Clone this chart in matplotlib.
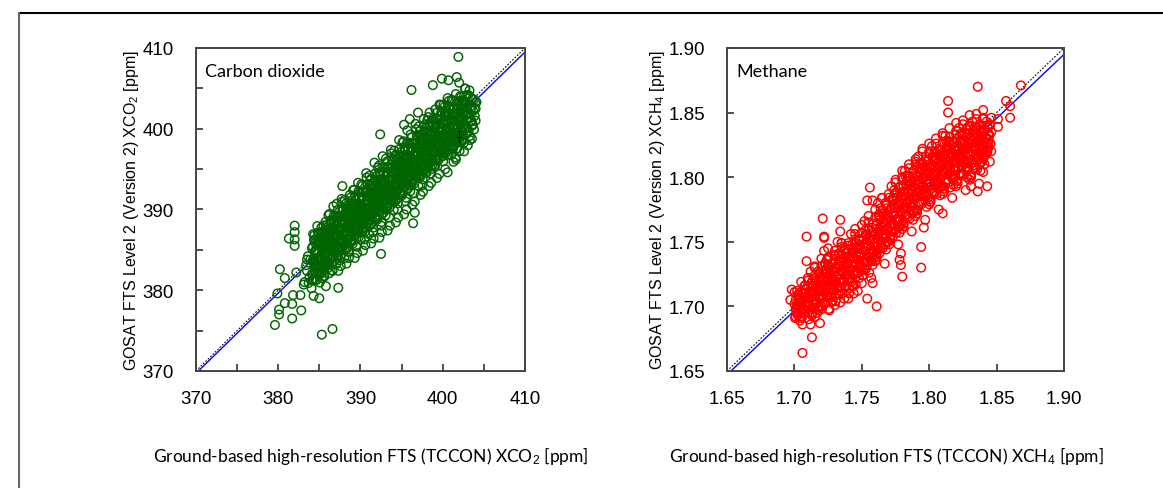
import numpy as np
import matplotlib
matplotlib.use('Agg')
import matplotlib.pyplot as plt
from matplotlib.lines import Line2D

plt.rcParams['font.family'] = 'sans-serif'
plt.rcParams['font.sans-serif'] = ['Liberation Sans', 'DejaVu Sans']
plt.rcParams['mathtext.fontset'] = 'custom'
plt.rcParams['mathtext.rm'] = 'Liberation Sans'
plt.rcParams['mathtext.it'] = 'Liberation Sans'

# ---- CO2 : TCCON (x) vs GOSAT (y) ----
co2_core_x = [
    383.2, 383.5, 383.8, 383.4, 383.9, 383.1, 383.7, 383.6,
    384.1, 384.3, 384.5, 384.7, 384.9, 384.2, 384.6, 384.8, 384.4, 384.9, 384.1, 384.6,
    385.0, 385.2, 385.4, 385.6, 385.8, 385.1, 385.3, 385.5, 385.7, 385.9, 385.2, 385.6, 385.4, 385.8, 385.0,
    386.0, 386.2, 386.4, 386.6, 386.8, 386.1, 386.3, 386.5, 386.7, 386.9, 386.2, 386.6, 386.4, 386.8, 386.0, 386.5,
    387.0, 387.2, 387.4, 387.6, 387.8, 387.1, 387.3, 387.5, 387.7, 387.9, 387.2, 387.6, 387.4, 387.8, 387.0, 387.5,
    388.0, 388.2, 388.4, 388.6, 388.8, 388.1, 388.3, 388.5, 388.7, 388.9, 388.2, 388.6, 388.4, 388.8, 388.0, 388.5,
    389.0, 389.2, 389.4, 389.6, 389.8, 389.1, 389.3, 389.5, 389.7, 389.9, 389.2, 389.6, 389.4, 389.8, 389.0, 389.5,
    390.0, 390.2, 390.4, 390.6, 390.8, 390.1, 390.3, 390.5, 390.7, 390.9, 390.2, 390.6, 390.4, 390.8, 390.0, 390.5,
    391.0, 391.2, 391.4, 391.6, 391.8, 391.1, 391.3, 391.5, 391.7, 391.9, 391.2, 391.6, 391.4, 391.8, 391.0, 391.5,
    392.0, 392.2, 392.4, 392.6, 392.8, 392.1, 392.3, 392.5, 392.7, 392.9, 392.2, 392.6, 392.4, 392.8, 392.0, 392.5,
    393.0, 393.2, 393.4, 393.6, 393.8, 393.1, 393.3, 393.5, 393.7, 393.9, 393.2, 393.6, 393.4, 393.8, 393.0, 393.5,
    394.0, 394.2, 394.4, 394.6, 394.8, 394.1, 394.3, 394.5, 394.7, 394.9, 394.2, 394.6, 394.4, 394.8, 394.0, 394.5,
    395.0, 395.2, 395.4, 395.6, 395.8, 395.1, 395.3, 395.5, 395.7, 395.9, 395.2, 395.6, 395.4, 395.8, 395.0, 395.5, 395.3,
    396.0, 396.2, 396.4, 396.6, 396.8, 396.1, 396.3, 396.5, 396.7, 396.9, 396.2, 396.6, 396.4, 396.8, 396.0, 396.5,
    397.0, 397.2, 397.4, 397.6, 397.8, 397.1, 397.3, 397.5, 397.7, 397.9, 397.2, 397.6, 397.4, 397.8, 397.0, 397.5,
    398.0, 398.2, 398.4, 398.6, 398.8, 398.1, 398.3, 398.5, 398.7, 398.9, 398.2, 398.6, 398.4,
    399.0, 399.2, 399.4, 399.6, 399.8, 399.1, 399.3, 399.5, 399.7, 399.9, 399.2, 399.6, 399.4,
    400.0, 400.2, 400.4, 400.6, 400.8, 400.1, 400.3, 400.5, 400.7, 400.9, 400.2, 400.6, 400.4,
    401.0, 401.2, 401.4, 401.6, 401.8, 401.1, 401.3, 401.5, 401.7, 401.9, 401.2, 401.6, 401.4,
    402.0, 402.2, 402.4, 402.6, 402.8, 402.1, 402.3, 402.5, 402.7, 402.9, 402.2,
    403.0, 403.2, 403.4, 403.6, 403.8, 403.1, 403.5, 403.9, 403.3,
    404.0, 404.0, 404.1,
]
co2_core_y = [
    381.0, 382.4, 381.6, 383.1, 383.8, 380.7, 380.9, 384.2,
    382.0, 383.5, 384.9, 381.3, 386.0, 385.4, 382.7, 384.0, 386.8, 383.1, 381.2, 385.7,
    382.2, 384.1, 386.3, 383.0, 385.2, 387.1, 381.5, 388.0, 384.5, 386.8, 382.9, 381.7, 385.0, 383.6, 383.9,
    383.4, 385.6, 387.5, 382.4, 384.7, 389.3, 386.4, 388.6, 390.4, 386.0, 382.1, 385.3, 384.0, 388.0, 387.0, 383.2,
    384.6, 386.9, 389.0, 383.0, 385.8, 390.7, 382.4, 387.6, 391.3, 388.4, 384.0, 386.3, 385.1, 389.8, 388.1, 383.7,
    385.1, 387.4, 389.6, 384.0, 386.6, 391.2, 383.3, 388.3, 391.8, 389.2, 385.9, 387.9, 386.3, 390.4, 388.7, 384.8,
    386.1, 388.5, 390.7, 384.6, 387.3, 392.4, 384.0, 389.4, 393.3, 390.1, 386.8, 388.6, 387.6, 391.4, 389.8, 385.4,
    387.1, 389.4, 391.5, 385.6, 388.2, 393.1, 384.9, 390.2, 394.5, 391.0, 387.6, 389.6, 388.5, 392.5, 390.6, 386.3,
    388.0, 390.4, 392.6, 386.4, 389.1, 394.2, 385.8, 391.1, 395.8, 392.0, 388.7, 390.7, 389.5, 393.6, 391.5, 387.2,
    389.0, 391.3, 393.5, 387.2, 390.0, 395.2, 386.5, 392.1, 396.6, 393.0, 389.7, 391.6, 390.4, 394.6, 392.4, 388.0,
    390.0, 392.3, 394.5, 388.0, 391.0, 396.3, 387.4, 393.1, 397.4, 394.0, 390.7, 392.6, 391.4, 395.6, 393.4, 389.0,
    391.0, 393.3, 395.5, 389.0, 392.0, 397.3, 388.4, 394.1, 398.6, 395.0, 391.7, 393.6, 392.4, 396.6, 394.4, 390.0,
    392.0, 394.3, 396.5, 390.0, 393.0, 398.3, 389.4, 395.1, 399.8, 396.0, 392.7, 394.6, 393.4, 397.6, 395.4, 391.0, 400.5,
    393.0, 395.3, 397.5, 391.0, 394.0, 399.3, 390.6, 396.1, 400.6, 397.0, 393.7, 395.6, 394.4, 398.6, 401.2, 392.0,
    394.0, 396.3, 398.5, 392.2, 395.0, 400.3, 391.8, 397.1, 401.2, 398.0, 394.7, 396.6, 395.4, 399.6, 402.0, 393.0,
    394.5, 397.3, 399.5, 393.3, 396.0, 401.0, 392.9, 398.1, 400.8, 397.2, 395.7, 395.0, 402.0,
    395.5, 398.3, 400.5, 394.4, 397.0, 402.4, 393.9, 399.1, 401.6, 398.2, 396.7, 403.0, 396.0,
    396.6, 399.3, 401.5, 394.6, 398.0, 403.0, 395.0, 400.1, 402.6, 399.2, 397.7, 403.8, 397.0,
    397.6, 400.3, 402.5, 396.2, 399.0, 403.6, 395.9, 401.1, 403.0, 400.2, 398.7, 404.3, 398.0,
    398.6, 401.3, 402.5, 397.2, 400.0, 404.0, 399.6, 401.1, 403.4, 401.8, 399.2,
    399.5, 401.8, 402.8, 400.4, 403.6, 404.2, 401.0, 402.4, 398.6,
    402.5, 401.0, 403.3,
]
# second pass over the dense middle of the cloud
co2_dense_x = [
    384.05, 384.3, 384.15, 384.4, 384.2, 384.45, 384.1, 384.35, 384.25,
    384.55, 384.8, 384.65, 384.9, 384.7, 384.95, 384.6, 384.85, 384.75,
    385.05, 385.3, 385.15, 385.4, 385.2, 385.45, 385.1, 385.35, 385.25,
    385.55, 385.8, 385.65, 385.9, 385.7, 385.95, 385.6, 385.85, 385.75,
    386.05, 386.3, 386.15, 386.4, 386.2, 386.45, 386.1, 386.35, 386.25,
    386.55, 386.8, 386.65, 386.9, 386.7, 386.95, 386.6, 386.85, 386.75,
    387.05, 387.3, 387.15, 387.4, 387.2, 387.45, 387.1, 387.35, 387.25,
    387.55, 387.8, 387.65, 387.9, 387.7, 387.95, 387.6, 387.85, 387.75,
    388.05, 388.3, 388.15, 388.4, 388.2, 388.45, 388.1, 388.35, 388.25,
    388.55, 388.8, 388.65, 388.9, 388.7, 388.95, 388.6, 388.85, 388.75,
    389.05, 389.3, 389.15, 389.4, 389.2, 389.45, 389.1, 389.35, 389.25,
    389.55, 389.8, 389.65, 389.9, 389.7, 389.95, 389.6, 389.85, 389.75,
    390.05, 390.3, 390.15, 390.4, 390.2, 390.45, 390.1, 390.35, 390.25,
    390.55, 390.8, 390.65, 390.9, 390.7, 390.95, 390.6, 390.85, 390.75,
    391.05, 391.3, 391.15, 391.4, 391.2, 391.45, 391.1, 391.35, 391.25,
    391.55, 391.8, 391.65, 391.9, 391.7, 391.95, 391.6, 391.85, 391.75,
    392.05, 392.3, 392.15, 392.4, 392.2, 392.45, 392.1, 392.35, 392.25,
    392.55, 392.8, 392.65, 392.9, 392.7, 392.95, 392.6, 392.85, 392.75,
    393.05, 393.3, 393.15, 393.4, 393.2, 393.45, 393.1, 393.35, 393.25,
    393.55, 393.8, 393.65, 393.9, 393.7, 393.95, 393.6, 393.85, 393.75,
    394.05, 394.3, 394.15, 394.4, 394.2, 394.45, 394.1, 394.35, 394.25,
    394.55, 394.8, 394.65, 394.9, 394.7, 394.95, 394.6, 394.85, 394.75,
    395.05, 395.3, 395.15, 395.4, 395.2, 395.45, 395.1, 395.35, 395.25,
    395.55, 395.8, 395.65, 395.9, 395.7, 395.95, 395.6, 395.85, 395.75,
    396.05, 396.3, 396.15, 396.4, 396.2, 396.45, 396.1, 396.35, 396.25,
    396.55, 396.8, 396.65, 396.9, 396.7, 396.95, 396.6, 396.85, 396.75,
    397.05, 397.3, 397.15, 397.4, 397.2, 397.45, 397.1, 397.35, 397.25,
    397.55, 397.8, 397.65, 397.9, 397.7, 397.95, 397.6, 397.85, 397.75,
    398.05, 398.3, 398.15, 398.4, 398.2, 398.45, 398.1, 398.35, 398.25,
    398.55, 398.8, 398.65, 398.9, 398.7, 398.95, 398.6, 398.85, 398.75,
    399.05, 399.3, 399.15, 399.4, 399.2, 399.45, 399.1, 399.35, 399.25,
    399.55, 399.8, 399.65, 399.9, 399.7, 399.95, 399.6, 399.85, 399.75,
    400.05, 400.3, 400.15, 400.4, 400.2, 400.45, 400.1, 400.35, 400.25,
    400.55, 400.8, 400.65, 400.9, 400.7, 400.95, 400.6, 400.85, 400.75,
    401.05, 401.3, 401.15, 401.4, 401.2, 401.45, 401.1, 401.35, 401.25,
    401.55, 401.8, 401.65, 401.9, 401.7, 401.95, 401.6, 401.85, 401.75,
    402.05, 402.3, 402.15, 402.4, 402.2, 402.45, 402.1, 402.35, 402.25,
    402.55, 402.8, 402.65, 402.9, 402.7, 402.95, 402.6, 402.85, 402.75,
    403.05, 403.3, 403.15, 403.4, 403.2, 403.45, 403.1, 403.35, 403.25,
    403.55, 403.8, 403.65, 403.9, 403.7, 403.95, 403.6,
]
co2_dense_y = [
    380.25, 381.4, 382.05, 383.1, 383.7, 384.75, 385.2, 386.25, 386.95,
    381.25, 382.3, 382.95, 384.0, 384.6, 385.65, 386.1, 387.15, 387.95,
    380.95, 382.1, 382.75, 383.9, 384.4, 385.55, 386.0, 386.95, 387.75,
    381.75, 382.9, 383.55, 384.6, 385.2, 386.25, 386.7, 387.75, 388.45,
    382.75, 383.8, 384.45, 385.5, 386.1, 387.15, 387.6, 388.65, 389.45,
    382.45, 383.6, 384.25, 385.4, 385.9, 387.05, 387.5, 388.45, 389.25,
    383.25, 384.4, 385.05, 386.1, 386.7, 387.75, 388.2, 389.25, 389.95,
    384.25, 385.3, 385.95, 387.0, 387.6, 388.65, 389.1, 390.15, 390.95,
    383.95, 385.1, 385.75, 386.9, 387.4, 388.55, 389.0, 389.95, 390.75,
    384.75, 385.9, 386.55, 387.6, 388.2, 389.25, 389.7, 390.75, 391.45,
    385.75, 386.8, 387.45, 388.5, 389.1, 390.15, 390.6, 391.65, 392.45,
    385.45, 386.6, 387.25, 388.4, 388.9, 390.05, 390.5, 391.45, 392.25,
    386.25, 387.4, 388.05, 389.1, 389.7, 390.75, 391.2, 392.25, 392.95,
    387.25, 388.3, 388.95, 390.0, 390.6, 391.65, 392.1, 393.15, 393.95,
    386.95, 388.1, 388.75, 389.9, 390.4, 391.55, 392.0, 392.95, 393.75,
    387.75, 388.9, 389.55, 390.6, 391.2, 392.25, 392.7, 393.75, 394.45,
    388.75, 389.8, 390.45, 391.5, 392.1, 393.15, 393.6, 394.65, 395.45,
    388.45, 389.6, 390.25, 391.4, 391.9, 393.05, 393.5, 394.45, 395.25,
    389.25, 390.4, 391.05, 392.1, 392.7, 393.75, 394.2, 395.25, 395.95,
    390.25, 391.3, 391.95, 393.0, 393.6, 394.65, 395.1, 396.15, 396.95,
    389.95, 391.1, 391.75, 392.9, 393.4, 394.55, 395.0, 395.95, 396.75,
    390.75, 391.9, 392.55, 393.6, 394.2, 395.25, 395.7, 396.75, 397.45,
    391.75, 392.8, 393.45, 394.5, 395.1, 396.15, 396.6, 397.65, 398.45,
    391.45, 392.6, 393.25, 394.4, 394.9, 396.05, 396.5, 397.45, 398.25,
    392.25, 393.4, 394.05, 395.1, 395.7, 396.75, 397.2, 398.25, 398.95,
    393.25, 394.3, 394.95, 396.0, 396.6, 397.65, 398.1, 399.15, 399.95,
    392.95, 394.1, 394.75, 395.9, 396.4, 397.55, 398.0, 398.95, 399.75,
    393.75, 394.9, 395.55, 396.6, 397.2, 398.25, 398.7, 399.75, 400.45,
    394.75, 395.8, 396.45, 397.5, 398.1, 399.15, 399.6, 400.65, 401.45,
    394.45, 395.6, 396.25, 397.4, 397.9, 399.05, 399.5, 400.45, 401.25,
    395.25, 396.4, 397.05, 398.1, 398.7, 399.75, 400.2, 401.25, 401.95,
    396.25, 397.3, 397.95, 399.0, 399.6, 400.65, 401.1, 402.15, 402.95,
    395.95, 397.1, 397.75, 398.9, 399.4, 400.55, 401.0, 401.95, 402.75,
    396.75, 397.9, 398.55, 399.6, 400.2, 401.25, 401.7, 402.75, 403.45,
    396.75, 397.8, 398.45, 399.5, 400.1, 401.15, 401.6, 402.65, 403.45,
    396.45, 397.6, 398.25, 399.4, 399.9, 401.05, 401.5, 402.45, 403.25,
    397.25, 398.4, 399.05, 400.1, 400.7, 401.75, 402.2, 403.25, 403.95,
    398.25, 399.3, 399.95, 401.0, 401.6, 402.65, 403.1, 404.15, 404.95,
    397.95, 399.1, 399.75, 400.9, 401.4, 402.55, 403.0, 403.95, 404.75,
    398.75, 399.9, 400.55, 401.6, 402.2, 403.25, 403.7,
]
# third pass, centre of the band
co2_mid_x = [
    384.25, 384.45, 384.65, 384.35, 384.55, 384.7, 384.4,
    384.75, 384.95, 385.15, 384.85, 385.05, 385.2, 384.9,
    385.25, 385.45, 385.65, 385.35, 385.55, 385.7, 385.4,
    385.75, 385.95, 386.15, 385.85, 386.05, 386.2, 385.9,
    386.25, 386.45, 386.65, 386.35, 386.55, 386.7, 386.4,
    386.75, 386.95, 387.15, 386.85, 387.05, 387.2, 386.9,
    387.25, 387.45, 387.65, 387.35, 387.55, 387.7, 387.4,
    387.75, 387.95, 388.15, 387.85, 388.05, 388.2, 387.9,
    388.25, 388.45, 388.65, 388.35, 388.55, 388.7, 388.4,
    388.75, 388.95, 389.15, 388.85, 389.05, 389.2, 388.9,
    389.25, 389.45, 389.65, 389.35, 389.55, 389.7, 389.4,
    389.75, 389.95, 390.15, 389.85, 390.05, 390.2, 389.9,
    390.25, 390.45, 390.65, 390.35, 390.55, 390.7, 390.4,
    390.75, 390.95, 391.15, 390.85, 391.05, 391.2, 390.9,
    391.25, 391.45, 391.65, 391.35, 391.55, 391.7, 391.4,
    391.75, 391.95, 392.15, 391.85, 392.05, 392.2, 391.9,
    392.25, 392.45, 392.65, 392.35, 392.55, 392.7, 392.4,
    392.75, 392.95, 393.15, 392.85, 393.05, 393.2, 392.9,
    393.25, 393.45, 393.65, 393.35, 393.55, 393.7, 393.4,
    393.75, 393.95, 394.15, 393.85, 394.05, 394.2, 393.9,
    394.25, 394.45, 394.65, 394.35, 394.55, 394.7, 394.4,
    394.75, 394.95, 395.15, 394.85, 395.05, 395.2, 394.9,
    395.25, 395.45, 395.65, 395.35, 395.55, 395.7, 395.4,
    395.75, 395.95, 396.15, 395.85, 396.05, 396.2, 395.9,
    396.25, 396.45, 396.65, 396.35, 396.55, 396.7, 396.4,
    396.75, 396.95, 397.15, 396.85, 397.05, 397.2, 396.9,
    397.25, 397.45, 397.65, 397.35, 397.55, 397.7, 397.4,
    397.75, 397.95, 398.15, 397.85, 398.05, 398.2, 397.9,
    398.25, 398.45, 398.65, 398.35, 398.55, 398.7, 398.4,
    398.75, 398.95, 399.15, 398.85, 399.05, 399.2, 398.9,
    399.25, 399.45, 399.65, 399.35, 399.55, 399.7, 399.4,
    399.75, 399.95, 400.15, 399.85, 400.05, 400.2, 399.9,
    400.25, 400.45, 400.65, 400.35, 400.55, 400.7, 400.4,
    400.75, 400.95, 401.15, 400.85, 401.05, 401.2, 400.9,
    401.25, 401.45, 401.65, 401.35, 401.55, 401.7, 401.4,
    401.75, 401.95, 402.15, 401.85, 402.05, 402.2, 401.9,
    402.25, 402.45, 402.65, 402.35, 402.55, 402.7, 402.4,
]
co2_mid_y = [
    381.25, 382.25, 383.25, 383.75, 384.75, 385.7, 386.2,
    382.15, 383.15, 384.15, 384.65, 385.65, 386.6, 387.1,
    382.25, 383.25, 384.25, 384.75, 385.75, 386.7, 387.2,
    383.15, 384.15, 385.15, 385.65, 386.65, 387.6, 388.1,
    383.25, 384.25, 385.25, 385.75, 386.75, 387.7, 388.2,
    384.15, 385.15, 386.15, 386.65, 387.65, 388.6, 389.1,
    384.25, 385.25, 386.25, 386.75, 387.75, 388.7, 389.2,
    385.15, 386.15, 387.15, 387.65, 388.65, 389.6, 390.1,
    385.25, 386.25, 387.25, 387.75, 388.75, 389.7, 390.2,
    386.15, 387.15, 388.15, 388.65, 389.65, 390.6, 391.1,
    386.25, 387.25, 388.25, 388.75, 389.75, 390.7, 391.2,
    387.15, 388.15, 389.15, 389.65, 390.65, 391.6, 392.1,
    387.25, 388.25, 389.25, 389.75, 390.75, 391.7, 392.2,
    388.15, 389.15, 390.15, 390.65, 391.65, 392.6, 393.1,
    388.25, 389.25, 390.25, 390.75, 391.75, 392.7, 393.2,
    389.15, 390.15, 391.15, 391.65, 392.65, 393.6, 394.1,
    389.25, 390.25, 391.25, 391.75, 392.75, 393.7, 394.2,
    390.15, 391.15, 392.15, 392.65, 393.65, 394.6, 395.1,
    390.25, 391.25, 392.25, 392.75, 393.75, 394.7, 395.2,
    391.15, 392.15, 393.15, 393.65, 394.65, 395.6, 396.1,
    391.25, 392.25, 393.25, 393.75, 394.75, 395.7, 396.2,
    392.15, 393.15, 394.15, 394.65, 395.65, 396.6, 397.1,
    392.25, 393.25, 394.25, 394.75, 395.75, 396.7, 397.2,
    393.15, 394.15, 395.15, 395.65, 396.65, 397.6, 398.1,
    393.25, 394.25, 395.25, 395.75, 396.75, 397.7, 398.2,
    394.15, 395.15, 396.15, 396.65, 397.65, 398.6, 399.1,
    394.25, 395.25, 396.25, 396.75, 397.75, 398.7, 399.2,
    395.15, 396.15, 397.15, 397.65, 398.65, 399.6, 400.1,
    395.25, 396.25, 397.25, 397.75, 398.75, 399.7, 400.2,
    396.15, 397.15, 398.15, 398.65, 399.65, 400.6, 401.1,
    396.25, 397.25, 398.25, 398.75, 399.75, 400.7, 401.2,
    397.15, 398.15, 399.15, 399.65, 400.65, 401.6, 402.1,
    397.25, 398.25, 399.25, 399.75, 400.75, 401.7, 402.2,
    397.45, 398.45, 399.45, 399.95, 400.95, 401.9, 402.4,
    397.55, 398.55, 399.55, 400.05, 401.05, 402.0, 402.5,
    398.45, 399.45, 400.45, 400.95, 401.95, 402.9, 403.4,
    398.55, 399.55, 400.55, 401.05, 402.05, 403.0, 403.5,
]
co2_out_x = [401.9, 396.2, 399.9, 400.7, 401.7, 402.0, 402.7, 398.8, 392.4, 387.8,
             396.6, 396.4, 392.5, 382.0, 382.0, 381.3, 382.0, 382.0, 380.2, 380.8,
             379.9, 380.1, 380.1, 379.6, 380.8, 381.7, 381.7, 382.8, 381.8, 382.7,
             385.3, 386.6, 384.3, 385.0, 385.8, 387.3, 382.2, 383.5]
co2_out_y = [408.9, 404.8, 406.2, 406.0, 406.4, 405.7, 405.0, 405.4, 399.3, 392.9,
             389.6, 388.3, 384.5, 388.0, 387.2, 386.4, 386.3, 385.5, 382.6, 381.5,
             379.6, 377.6, 377.0, 375.7, 378.4, 378.3, 376.5, 377.5, 379.4, 379.4,
             374.5, 375.2, 379.3, 379.0, 380.5, 380.3, 382.2, 383.8]
co2_fit = (1.55, 0.995)

# ---- CH4 ----
ch4_core_x = [
    1.701, 1.703, 1.705, 1.707, 1.709, 1.702, 1.704, 1.706, 1.708, 1.710, 1.700, 1.705,
    1.711, 1.713, 1.715, 1.717, 1.719, 1.712, 1.714, 1.716, 1.718, 1.710, 1.713, 1.717, 1.715, 1.719, 1.711, 1.716,
    1.721, 1.723, 1.725, 1.727, 1.729, 1.722, 1.724, 1.726, 1.728, 1.720, 1.723, 1.727, 1.725, 1.729, 1.721, 1.726, 1.724, 1.728, 1.722, 1.730,
    1.731, 1.733, 1.735, 1.737, 1.739, 1.732, 1.734, 1.736, 1.738, 1.730, 1.733, 1.737, 1.735, 1.739, 1.731, 1.736, 1.734, 1.738, 1.732, 1.740,
    1.741, 1.743, 1.745, 1.747, 1.749, 1.742, 1.744, 1.746, 1.748, 1.740, 1.743, 1.747, 1.745, 1.749, 1.741, 1.746, 1.744, 1.748,
    1.751, 1.753, 1.755, 1.757, 1.759, 1.752, 1.754, 1.756, 1.758, 1.750, 1.753, 1.757, 1.755, 1.759, 1.751, 1.756,
    1.761, 1.763, 1.765, 1.767, 1.769, 1.762, 1.764, 1.766, 1.768, 1.760, 1.763, 1.767, 1.765, 1.769, 1.761, 1.766, 1.764, 1.768,
    1.771, 1.773, 1.775, 1.777, 1.779, 1.772, 1.774, 1.776, 1.778, 1.770, 1.773, 1.777, 1.775, 1.779, 1.771, 1.776, 1.774, 1.778, 1.772, 1.780,
    1.781, 1.783, 1.785, 1.787, 1.789, 1.782, 1.784, 1.786, 1.788, 1.780, 1.783, 1.787, 1.785, 1.789, 1.781, 1.786, 1.784, 1.788, 1.782, 1.790, 1.785, 1.787,
    1.791, 1.793, 1.795, 1.797, 1.799, 1.792, 1.794, 1.796, 1.798, 1.790, 1.793, 1.797, 1.795, 1.799, 1.791, 1.796, 1.794, 1.798, 1.792, 1.800, 1.795, 1.797,
    1.801, 1.803, 1.805, 1.807, 1.809, 1.802, 1.804, 1.806, 1.808, 1.800, 1.803, 1.807, 1.805, 1.809, 1.801, 1.806, 1.804, 1.808, 1.802, 1.810, 1.805, 1.807,
    1.811, 1.813, 1.815, 1.817, 1.819, 1.812, 1.814, 1.816, 1.818, 1.810, 1.813, 1.817, 1.815, 1.819, 1.811, 1.816, 1.814, 1.818, 1.812, 1.820, 1.815, 1.817,
    1.821, 1.823, 1.825, 1.827, 1.829, 1.822, 1.824, 1.826, 1.828, 1.820, 1.823, 1.827, 1.825, 1.829, 1.821, 1.826, 1.824, 1.828, 1.822, 1.830, 1.825, 1.827,
    1.831, 1.833, 1.835, 1.837, 1.839, 1.832, 1.834, 1.836, 1.838, 1.830, 1.833, 1.837, 1.835, 1.839, 1.831, 1.836, 1.834, 1.838, 1.832, 1.840, 1.835, 1.837,
    1.841, 1.843, 1.845, 1.842, 1.844, 1.846, 1.840, 1.843, 1.845, 1.841, 1.844, 1.846,
]
ch4_core_y = [
    1.698, 1.705, 1.692, 1.710, 1.700, 1.712, 1.689, 1.703, 1.716, 1.707, 1.702, 1.695,
    1.700, 1.712, 1.722, 1.695, 1.708, 1.727, 1.704, 1.716, 1.699, 1.720, 1.693, 1.714, 1.730, 1.721, 1.709, 1.703,
    1.712, 1.725, 1.738, 1.703, 1.718, 1.743, 1.708, 1.730, 1.722, 1.700, 1.733, 1.714, 1.745, 1.728, 1.720, 1.697, 1.736, 1.710, 1.727, 1.740,
    1.718, 1.732, 1.746, 1.706, 1.724, 1.750, 1.712, 1.737, 1.728, 1.701, 1.741, 1.720, 1.749, 1.734, 1.710, 1.726, 1.703, 1.744, 1.715, 1.738,
    1.722, 1.738, 1.752, 1.712, 1.730, 1.756, 1.716, 1.744, 1.734, 1.706, 1.748, 1.726, 1.760, 1.741, 1.714, 1.733, 1.710, 1.751,
    1.728, 1.745, 1.760, 1.722, 1.738, 1.766, 1.732, 1.752, 1.743, 1.718, 1.756, 1.735, 1.770, 1.749, 1.724, 1.741,
    1.741, 1.757, 1.772, 1.733, 1.750, 1.780, 1.745, 1.764, 1.755, 1.735, 1.769, 1.748, 1.784, 1.761, 1.738, 1.753, 1.776, 1.744,
    1.754, 1.770, 1.786, 1.748, 1.763, 1.793, 1.758, 1.778, 1.768, 1.750, 1.782, 1.761, 1.798, 1.774, 1.752, 1.766, 1.790, 1.757, 1.776, 1.800,
    1.764, 1.780, 1.797, 1.758, 1.774, 1.805, 1.769, 1.790, 1.779, 1.760, 1.794, 1.772, 1.810, 1.786, 1.762, 1.777, 1.801, 1.767, 1.788, 1.812, 1.783, 1.796,
    1.774, 1.790, 1.806, 1.767, 1.784, 1.816, 1.779, 1.800, 1.789, 1.770, 1.804, 1.782, 1.822, 1.796, 1.772, 1.787, 1.811, 1.777, 1.798, 1.826, 1.793, 1.808,
    1.783, 1.799, 1.815, 1.775, 1.793, 1.824, 1.788, 1.809, 1.798, 1.779, 1.813, 1.791, 1.830, 1.805, 1.781, 1.796, 1.820, 1.786, 1.807, 1.834, 1.802, 1.817,
    1.791, 1.807, 1.823, 1.784, 1.801, 1.832, 1.796, 1.817, 1.806, 1.787, 1.821, 1.799, 1.838, 1.813, 1.789, 1.804, 1.828, 1.794, 1.815, 1.842, 1.810, 1.825,
    1.797, 1.813, 1.829, 1.790, 1.807, 1.838, 1.802, 1.823, 1.812, 1.793, 1.827, 1.805, 1.844, 1.819, 1.795, 1.810, 1.834, 1.800, 1.821, 1.848, 1.816, 1.831,
    1.802, 1.818, 1.834, 1.795, 1.812, 1.843, 1.807, 1.828, 1.817, 1.798, 1.832, 1.810, 1.849, 1.824, 1.800, 1.815, 1.839, 1.805, 1.826, 1.852, 1.821, 1.836,
    1.810, 1.826, 1.840, 1.818, 1.833, 1.846, 1.804, 1.822, 1.812, 1.836, 1.829, 1.820,
]
ch4_dense_x = [
    1.7005, 1.703, 1.7015, 1.704, 1.702, 1.7045, 1.701, 1.7035, 1.7025, 1.700,
    1.7055, 1.708, 1.7065, 1.709, 1.707, 1.7095, 1.706, 1.7085, 1.7075, 1.705,
    1.7105, 1.713, 1.7115, 1.714, 1.712, 1.7145, 1.711, 1.7135, 1.7125, 1.710,
    1.7155, 1.718, 1.7165, 1.719, 1.717, 1.7195, 1.716, 1.7185, 1.7175, 1.715,
    1.7205, 1.723, 1.7215, 1.724, 1.722, 1.7245, 1.721, 1.7235, 1.7225, 1.720,
    1.7255, 1.728, 1.7265, 1.729, 1.727, 1.7295, 1.726, 1.7285, 1.7275, 1.725,
    1.7305, 1.733, 1.7315, 1.734, 1.732, 1.7345, 1.731, 1.7335, 1.7325, 1.730,
    1.7355, 1.738, 1.7365, 1.739, 1.737, 1.7395, 1.736, 1.7385, 1.7375, 1.735,
    1.7405, 1.743, 1.7415, 1.744, 1.742, 1.7445, 1.741, 1.7435, 1.7425, 1.740,
    1.7455, 1.748, 1.7465, 1.749, 1.747, 1.7495, 1.746, 1.7485, 1.7475, 1.745,
    1.7505, 1.753, 1.7515, 1.754, 1.752, 1.7545, 1.751, 1.7535, 1.7525, 1.750,
    1.7555, 1.758, 1.7565, 1.759, 1.757, 1.7595, 1.756, 1.7585, 1.7575, 1.755,
    1.7605, 1.763, 1.7615, 1.764, 1.762, 1.7645, 1.761, 1.7635, 1.7625, 1.760,
    1.7655, 1.768, 1.7665, 1.769, 1.767, 1.7695, 1.766, 1.7685, 1.7675, 1.765,
    1.7705, 1.773, 1.7715, 1.774, 1.772, 1.7745, 1.771, 1.7735, 1.7725, 1.770,
    1.7755, 1.778, 1.7765, 1.779, 1.777, 1.7795, 1.776, 1.7785, 1.7775, 1.775,
    1.7805, 1.783, 1.7815, 1.784, 1.782, 1.7845, 1.781, 1.7835, 1.7825, 1.780,
    1.7855, 1.788, 1.7865, 1.789, 1.787, 1.7895, 1.786, 1.7885, 1.7875, 1.785,
    1.7905, 1.793, 1.7915, 1.794, 1.792, 1.7945, 1.791, 1.7935, 1.7925, 1.790,
    1.7955, 1.798, 1.7965, 1.799, 1.797, 1.7995, 1.796, 1.7985, 1.7975, 1.795,
    1.8005, 1.803, 1.8015, 1.804, 1.802, 1.8045, 1.801, 1.8035, 1.8025, 1.800,
    1.8055, 1.808, 1.8065, 1.809, 1.807, 1.8095, 1.806, 1.8085, 1.8075, 1.805,
    1.8105, 1.813, 1.8115, 1.814, 1.812, 1.8145, 1.811, 1.8135, 1.8125, 1.810,
    1.8155, 1.818, 1.8165, 1.819, 1.817, 1.8195, 1.816, 1.8185, 1.8175, 1.815,
    1.8205, 1.823, 1.8215, 1.824, 1.822, 1.8245, 1.821, 1.8235, 1.8225, 1.820,
    1.8255, 1.828, 1.8265, 1.829, 1.827, 1.8295, 1.826, 1.8285, 1.8275, 1.825,
    1.8305, 1.833, 1.8315, 1.834, 1.832, 1.8345, 1.831, 1.8335, 1.8325, 1.830,
    1.8355, 1.838, 1.8365, 1.839, 1.837, 1.8395, 1.836, 1.8385, 1.8375, 1.835,
    1.8405, 1.843, 1.8415, 1.844, 1.842, 1.8445, 1.841, 1.8435, 1.8425, 1.840,
]
ch4_dense_y = [
    1.691, 1.694, 1.696, 1.699, 1.701, 1.703, 1.705, 1.707, 1.709, 1.711,
    1.691, 1.695, 1.698, 1.702, 1.705, 1.708, 1.710, 1.713, 1.716, 1.719,
    1.690, 1.695, 1.698, 1.702, 1.706, 1.709, 1.712, 1.715, 1.718, 1.722,
    1.692, 1.697, 1.702, 1.707, 1.711, 1.715, 1.719, 1.723, 1.727, 1.731,
    1.698, 1.703, 1.708, 1.713, 1.717, 1.721, 1.725, 1.729, 1.733, 1.737,
    1.698, 1.704, 1.708, 1.713, 1.717, 1.721, 1.725, 1.729, 1.733, 1.737,
    1.704, 1.709, 1.714, 1.719, 1.723, 1.727, 1.731, 1.735, 1.739, 1.743,
    1.710, 1.715, 1.720, 1.725, 1.729, 1.733, 1.737, 1.741, 1.745, 1.749,
    1.710, 1.716, 1.720, 1.725, 1.729, 1.733, 1.737, 1.741, 1.745, 1.749,
    1.717, 1.722, 1.727, 1.732, 1.736, 1.740, 1.744, 1.748, 1.752, 1.756,
    1.724, 1.729, 1.734, 1.739, 1.743, 1.747, 1.751, 1.755, 1.759, 1.763,
    1.726, 1.732, 1.736, 1.741, 1.745, 1.749, 1.753, 1.757, 1.761, 1.765,
    1.736, 1.741, 1.746, 1.751, 1.755, 1.759, 1.763, 1.767, 1.771, 1.775,
    1.745, 1.750, 1.755, 1.760, 1.764, 1.768, 1.772, 1.776, 1.780, 1.784,
    1.748, 1.754, 1.758, 1.763, 1.767, 1.771, 1.775, 1.779, 1.783, 1.787,
    1.757, 1.762, 1.767, 1.772, 1.776, 1.780, 1.784, 1.788, 1.792, 1.796,
    1.766, 1.771, 1.776, 1.781, 1.785, 1.789, 1.793, 1.797, 1.801, 1.805,
    1.768, 1.774, 1.778, 1.783, 1.787, 1.791, 1.795, 1.799, 1.803, 1.807,
    1.775, 1.780, 1.785, 1.790, 1.794, 1.798, 1.802, 1.806, 1.810, 1.814,
    1.781, 1.786, 1.791, 1.796, 1.800, 1.804, 1.808, 1.812, 1.816, 1.820,
    1.781, 1.787, 1.791, 1.796, 1.800, 1.804, 1.808, 1.812, 1.816, 1.820,
    1.787, 1.792, 1.797, 1.802, 1.806, 1.810, 1.814, 1.818, 1.822, 1.826,
    1.793, 1.798, 1.803, 1.808, 1.812, 1.816, 1.820, 1.824, 1.828, 1.832,
    1.792, 1.798, 1.802, 1.807, 1.811, 1.815, 1.819, 1.823, 1.827, 1.831,
    1.797, 1.802, 1.807, 1.812, 1.816, 1.820, 1.824, 1.828, 1.832, 1.836,
    1.802, 1.807, 1.812, 1.817, 1.821, 1.825, 1.829, 1.833, 1.837, 1.841,
    1.801, 1.807, 1.811, 1.816, 1.820, 1.824, 1.828, 1.832, 1.836, 1.840,
    1.806, 1.811, 1.816, 1.821, 1.825, 1.829, 1.833, 1.837, 1.841, 1.845,
    1.815, 1.819, 1.823, 1.827, 1.830, 1.833, 1.836, 1.839, 1.843, 1.846,
]
ch4_mid_x = [
    1.7025, 1.704, 1.7055, 1.703, 1.7045, 1.706, 1.7035, 1.705,
    1.7075, 1.709, 1.7105, 1.708, 1.7095, 1.711, 1.7085, 1.710,
    1.7125, 1.714, 1.7155, 1.713, 1.7145, 1.716, 1.7135, 1.715,
    1.7175, 1.719, 1.7205, 1.718, 1.7195, 1.721, 1.7185, 1.720,
    1.7225, 1.724, 1.7255, 1.723, 1.7245, 1.726, 1.7235, 1.725,
    1.7275, 1.729, 1.7305, 1.728, 1.7295, 1.731, 1.7285, 1.730,
    1.7325, 1.734, 1.7355, 1.733, 1.7345, 1.736, 1.7335, 1.735,
    1.7375, 1.739, 1.7405, 1.738, 1.7395, 1.741, 1.7385, 1.740,
    1.7425, 1.744, 1.7455, 1.743, 1.7445, 1.746, 1.7435, 1.745,
    1.7475, 1.749, 1.7505, 1.748, 1.7495, 1.751, 1.7485, 1.750,
    1.7525, 1.754, 1.7555, 1.753, 1.7545, 1.756, 1.7535, 1.755,
    1.7575, 1.759, 1.7605, 1.758, 1.7595, 1.761, 1.7585, 1.760,
    1.7625, 1.764, 1.7655, 1.763, 1.7645, 1.766, 1.7635, 1.765,
    1.7675, 1.769, 1.7705, 1.768, 1.7695, 1.771, 1.7685, 1.770,
    1.7725, 1.774, 1.7755, 1.773, 1.7745, 1.776, 1.7735, 1.775,
    1.7775, 1.779, 1.7805, 1.778, 1.7795, 1.781, 1.7785, 1.780,
    1.7825, 1.784, 1.7855, 1.783, 1.7845, 1.786, 1.7835, 1.785,
    1.7875, 1.789, 1.7905, 1.788, 1.7895, 1.791, 1.7885, 1.790,
    1.7925, 1.794, 1.7955, 1.793, 1.7945, 1.796, 1.7935, 1.795,
    1.7975, 1.799, 1.8005, 1.798, 1.7995, 1.801, 1.7985, 1.800,
    1.8025, 1.804, 1.8055, 1.803, 1.8045, 1.806, 1.8035, 1.805,
    1.8075, 1.809, 1.8105, 1.808, 1.8095, 1.811, 1.8085, 1.810,
    1.8125, 1.814, 1.8155, 1.813, 1.8145, 1.816, 1.8135, 1.815,
    1.8175, 1.819, 1.8205, 1.818, 1.8195, 1.821, 1.8185, 1.820,
    1.8225, 1.824, 1.8255, 1.823, 1.8245, 1.826, 1.8235, 1.825,
    1.8275, 1.829, 1.8305, 1.828, 1.8295, 1.831, 1.8285, 1.830,
    1.8325, 1.834, 1.8355, 1.833, 1.8345, 1.836, 1.8335, 1.835,
    1.8375, 1.839, 1.8405, 1.838, 1.8395, 1.841, 1.8385, 1.840,
    1.8425, 1.844, 1.8455, 1.843, 1.8445, 1.846, 1.8435, 1.845,
]
ch4_mid_y = [
    1.693, 1.696, 1.698, 1.701, 1.704, 1.706, 1.709, 1.711,
    1.698, 1.701, 1.703, 1.706, 1.708, 1.711, 1.713, 1.716,
    1.694, 1.699, 1.703, 1.708, 1.712, 1.716, 1.720, 1.724,
    1.700, 1.705, 1.709, 1.714, 1.718, 1.722, 1.726, 1.731,
    1.702, 1.707, 1.711, 1.716, 1.720, 1.724, 1.728, 1.732,
    1.708, 1.713, 1.717, 1.722, 1.726, 1.730, 1.734, 1.739,
    1.710, 1.715, 1.719, 1.724, 1.728, 1.732, 1.736, 1.740,
    1.716, 1.721, 1.725, 1.730, 1.734, 1.738, 1.742, 1.747,
    1.719, 1.724, 1.728, 1.733, 1.737, 1.741, 1.745, 1.749,
    1.726, 1.731, 1.735, 1.740, 1.744, 1.748, 1.752, 1.757,
    1.729, 1.734, 1.738, 1.743, 1.747, 1.751, 1.755, 1.759,
    1.738, 1.743, 1.747, 1.752, 1.756, 1.760, 1.764, 1.769,
    1.744, 1.749, 1.753, 1.758, 1.762, 1.766, 1.770, 1.774,
    1.753, 1.758, 1.762, 1.767, 1.771, 1.775, 1.779, 1.784,
    1.758, 1.763, 1.767, 1.772, 1.776, 1.780, 1.784, 1.788,
    1.767, 1.772, 1.776, 1.781, 1.785, 1.789, 1.793, 1.798,
    1.771, 1.776, 1.780, 1.785, 1.789, 1.793, 1.797, 1.801,
    1.779, 1.784, 1.788, 1.793, 1.797, 1.801, 1.805, 1.810,
    1.781, 1.786, 1.790, 1.795, 1.799, 1.803, 1.807, 1.811,
    1.787, 1.792, 1.796, 1.801, 1.805, 1.809, 1.813, 1.818,
    1.789, 1.794, 1.798, 1.803, 1.807, 1.811, 1.815, 1.819,
    1.795, 1.800, 1.804, 1.809, 1.813, 1.817, 1.821, 1.826,
    1.797, 1.802, 1.806, 1.811, 1.815, 1.819, 1.823, 1.827,
    1.802, 1.807, 1.811, 1.816, 1.820, 1.824, 1.828, 1.833,
    1.803, 1.808, 1.812, 1.817, 1.821, 1.825, 1.829, 1.833,
    1.808, 1.813, 1.817, 1.822, 1.826, 1.830, 1.834, 1.839,
    1.809, 1.814, 1.818, 1.823, 1.827, 1.831, 1.835, 1.839,
    1.814, 1.819, 1.823, 1.828, 1.832, 1.836, 1.840, 1.845,
    1.820, 1.823, 1.826, 1.830, 1.832, 1.835, 1.838, 1.841,
]
ch4_out_x = [1.868, 1.836, 1.814, 1.814, 1.857, 1.860, 1.860, 1.851, 1.851, 1.843,
             1.836, 1.831, 1.810, 1.794, 1.794, 1.796, 1.779, 1.779, 1.780, 1.778,
             1.756, 1.754, 1.758, 1.734, 1.734, 1.721, 1.722, 1.722, 1.709, 1.709,
             1.698, 1.697, 1.706, 1.713, 1.712, 1.754, 1.761, 1.758, 1.719, 1.706,
             1.701, 1.702]
ch4_out_y = [1.871, 1.870, 1.859, 1.850, 1.859, 1.855, 1.846, 1.845, 1.839, 1.793,
             1.789, 1.793, 1.772, 1.746, 1.730, 1.761, 1.741, 1.732, 1.723, 1.736,
             1.792, 1.782, 1.782, 1.767, 1.758, 1.768, 1.754, 1.753, 1.754, 1.735,
             1.713, 1.705, 1.664, 1.676, 1.686, 1.706, 1.700, 1.718, 1.687, 1.686,
             1.692, 1.700]
ch4_fit = (0.0103, 0.992)

panels = [
    dict(cx=co2_core_x + co2_dense_x + co2_mid_x + co2_out_x,
         cy=co2_core_y + co2_dense_y + co2_mid_y + co2_out_y,
         fit=co2_fit, lim=(370, 410), major=10, minor=5, fmt='%d', color='#006400',
         name='Carbon dioxide', gas='XCO$_2$', left=0.1685, width=0.2829, xc=0.319),
    dict(cx=ch4_core_x + ch4_dense_x + ch4_mid_x + ch4_out_x,
         cy=ch4_core_y + ch4_dense_y + ch4_mid_y + ch4_out_y,
         fit=ch4_fit, lim=(1.65, 1.90), major=0.05, minor=None, fmt='%.2f', color='red',
         name='Methane', gas='XCH$_4$', left=0.6251, width=0.2898, xc=0.762),
]

fig = plt.figure(figsize=(11.63, 4.89), dpi=100)

# outer frame (top and left edges visible)
fig.add_artist(Line2D([0.0163, 1.0], [0.971, 0.971], color='black', lw=1.5))
fig.add_artist(Line2D([0.0163, 0.0163], [0.0, 0.971], color='#666666', lw=1.5))

for p in panels:
    ax = fig.add_axes([p['left'], 0.2393, p['width'], 0.6605])
    lo, hi = p['lim']
    xx = np.array([lo, hi])
    # 1:1 and regression lines sit under the points
    ax.plot(xx, xx, color='black', ls=(0, (1.5, 1.5)), lw=0.8, zorder=1)
    a, b = p['fit']
    ax.plot(xx, a + b * xx, color='blue', lw=1.0, zorder=1)
    ax.scatter(p['cx'], p['cy'], s=38, facecolors='none', edgecolors=p['color'],
               linewidths=1.05, zorder=2)
    ax.set_xlim(lo, hi)
    ax.set_ylim(lo, hi)
    ticks = np.arange(lo, hi + p['major'] / 2, p['major'])
    ax.set_xticks(ticks)
    ax.set_yticks(ticks)
    ax.set_xticklabels([p['fmt'] % t for t in ticks])
    ax.set_yticklabels([p['fmt'] % t for t in ticks])
    if p['minor']:
        mt = np.arange(lo, hi + 0.1, p['minor'])
        ax.set_xticks(mt, minor=True)
        ax.set_yticks(mt, minor=True)
    ax.tick_params(which='both', direction='in', length=5, width=1.2,
                   color='#333333', labelsize=13.5, top=False, right=False)
    ax.tick_params(axis='y', pad=16)
    ax.tick_params(axis='x', pad=14)
    for s in ax.spines.values():
        s.set_color('#444444')
        s.set_linewidth(1.4)
    ax.text(0.028, 0.929, p['name'], transform=ax.transAxes, fontsize=13,
            family='Lato', va='center', ha='left')
    ax.set_ylabel('GOSAT FTS Level 2 (Version 2) ' + p['gas'] + ' [ppm]',
                  fontsize=11.5, labelpad=1)
    fig.text(p['xc'], 0.0675,
             'Ground-based high-resolution FTS (TCCON) ' + p['gas'] + ' [ppm]',
             fontsize=12.5, family='Lato', ha='center', va='center')

# error bar marker seen in the CO2 panel
fig.axes[0].errorbar(402.0, 399.0, xerr=0.4, yerr=0.8, color='black', lw=0.8,
                     capsize=0, zorder=4)

fig.savefig('out.png', dpi=100)
